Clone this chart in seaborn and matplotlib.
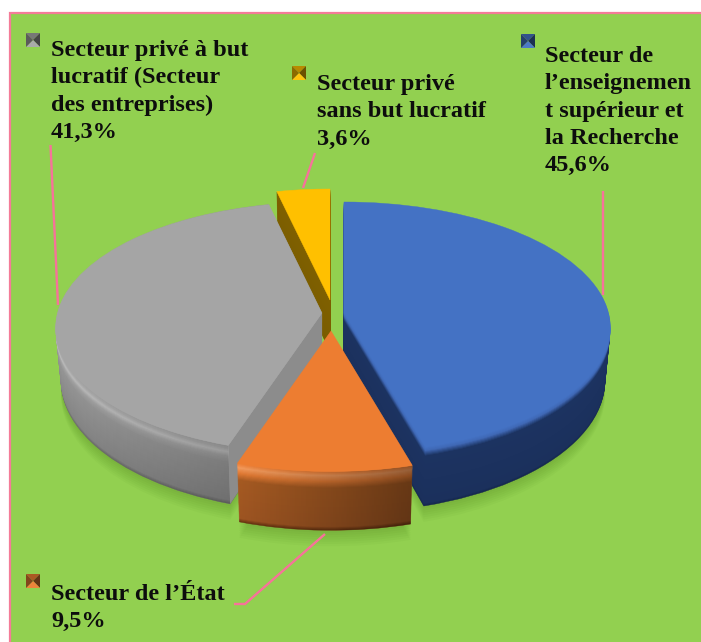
import numpy as np
import matplotlib
matplotlib.use("Agg")
import matplotlib.pyplot as plt
import seaborn as sns
from matplotlib.transforms import Transform
from matplotlib.patches import Rectangle, Polygon
from matplotlib.colors import to_rgb

categories = ["enseignement", "etat", "prive_lucratif", "prive_non_lucratif"]
values = [45.6, 9.5, 41.3, 3.6]
top_colors = ["#4472C4", "#ED7D31", "#A5A5A5", "#FFC000"]
labels = [
    ["Secteur de", "l’enseignemen", "t supérieur et", "la Recherche", "45,6%"],
    ["Secteur de l’État", "9,5%"],
    ["Secteur privé à but", "lucratif (Secteur", "des entreprises)", "41,3%"],
    ["Secteur privé", "sans but lucratif", "3,6%"],
]

# slice geometry in pixels
apex = [(344, 313), (331, 331), (322, 313), (330, 300)]
label_xy = [(545, 62), (51, 600), (51, 56), (317, 90)]
key_xy = [(521, 34), (26, 574), (26, 33), (292, 66)]
leaders = [
    [(603, 191), (603, 295)],
    [(325, 534), (245, 604), (234, 604)],
    [(50.5, 145), (58, 305)],
    [(315, 153), (303, 188)],
]
draw_order = [3, 2, 0, 1]
RX, RY, K, DEPTH, TAPER = 264.5, 124, 0.117, 52, 0.02

# side shading: (depth in px, colour) stops for each slice
side_stops = [
    [(0, "#4472C4"), (3, "#4069B6"), (8, "#1C3361"), (50, "#1B305C"), (52, "#16284E")],
    [(0, "#ED7D31"), (4, "#F39A5C"), (9, "#E07A34"), (15, "#A55A22"), (49, "#9E5522"), (52, "#6A3512")],
    [(0, "#A5A5A5"), (3, "#ACACAC"), (6, "#BDBDBD"), (10, "#A4A4A4"), (16, "#969696"), (49, "#888888"), (52, "#6E6E6E")],
    [(0, "#FFC000"), (1, "#7F6000"), (52, "#7A5C00")],
]
gray_cut_color = "#8C8C8C"

sns.set_theme(style="white")
plt.rcParams["font.family"] = ["Liberation Serif", "DejaVu Serif"]


class Perspective(Transform):
    input_dims = 2
    output_dims = 2
    is_separable = False
    has_inverse = False

    def __init__(self, center, dz=0):
        super().__init__()
        self.center = center
        self.dz = dz

    def transform_non_affine(self, v):
        v = np.asarray(v, dtype=float)
        s = 1.0 / (1.0 + K * v[:, 1])
        taper = 1.0 - TAPER * min(self.dz, DEPTH) / DEPTH
        return np.column_stack([
            self.center[0] + RX * taper * v[:, 0] * s,
            self.center[1] + (-RY * v[:, 1] + self.dz) * s,
        ])


def mix(c, f):
    c = np.array(to_rgb(c))
    return tuple(np.clip(c * f if f <= 1 else c + (1 - c) * (f - 1), 0, 1))


def shade(stops, dz):
    ds = [s[0] for s in stops]
    rgb = np.array([to_rgb(s[1]) for s in stops])
    return tuple(np.interp(dz, ds, rgb[:, k]) for k in range(3))


fig = plt.figure(figsize=(7.01, 6.42), dpi=100, facecolor="white")
ax = fig.add_axes([0, 0, 1, 1])

order_rank = {i: r for r, i in enumerate(draw_order)}
cum = np.cumsum([0] + values) / 100 * 2 * np.pi

# soft shadow
for dz in range(DEPTH - 2, DEPTH + 16, 2):
    wedges, _ = ax.pie(values, startangle=90, counterclock=False, colors=["#3A6A10"] * 4)
    for i, w in enumerate(wedges):
        w.set_transform(Perspective(apex[i], dz) + ax.transData)
        w.set_alpha(0.04)
        w.set_linewidth(0)
        w.set_zorder(1)
        if i == 3:
            w.set_visible(False)

# extruded sides, from the bottom up, and top face
for dz in range(DEPTH, -1, -1):
    cols = [shade(side_stops[i], dz) for i in range(4)]
    wedges, _ = ax.pie(values, startangle=90, counterclock=False, colors=cols)
    for i, w in enumerate(wedges):
        w.set_transform(Perspective(apex[i], dz) + ax.transData)
        w.set_edgecolor(cols[i])
        w.set_linewidth(0.3)
        w.set_zorder(10 + order_rank[i] * 10 + (3 if dz == 0 else 0))


# horizontal shading of the front sides
def side_gradient(i, start, end, a_left, a_right):
    th = np.linspace(cum[start], cum[end], 60)
    pts = np.column_stack([np.sin(th), np.cos(th)])
    upper = Perspective(apex[i], 0).transform(pts)
    lower = Perspective(apex[i], DEPTH).transform(pts)
    clip = Polygon(np.vstack([upper, lower[::-1]]), transform=ax.transData, fc="none", ec="none")
    ax.add_patch(clip)
    grad = np.zeros((2, 64, 4))
    grad[..., 3] = np.linspace(a_left, a_right, 64)
    xs = np.r_[upper[:, 0], lower[:, 0]]
    ys = np.r_[upper[:, 1], lower[:, 1]]
    im = ax.imshow(grad, extent=(xs.min(), xs.max(), ys.max(), ys.min()),
                   zorder=12 + order_rank[i] * 10, aspect="auto")
    im.set_clip_path(clip)


side_gradient(1, 1, 2, 0.0, 0.38)
side_gradient(2, 2, 3, 0.0, 0.22)

# flat cut face of the gray slice (no rim highlight there)
corner = np.array([[np.sin(cum[2]), np.cos(cum[2])], [0.0, 0.0]])
top_edge = Perspective(apex[2], 0).transform(corner)
low_edge = Perspective(apex[2], DEPTH).transform(corner)
ax.add_patch(Polygon(np.vstack([top_edge, low_edge[::-1]]), facecolor=gray_cut_color,
                     edgecolor="none", zorder=12 + order_rank[2] * 10))

# background panel and decorations
ax.add_patch(Rectangle((10, 13), 720, 660, facecolor="#92D050", edgecolor="#F47C98", linewidth=1.6, zorder=0))

for pts_l in leaders:
    xs, ys = zip(*pts_l)
    ax.plot(xs, ys, color="#F7729A", lw=1.7, solid_capstyle="butt", solid_joinstyle="miter", zorder=5)

for i, (kx, ky) in enumerate(key_xy):
    size = 14
    cx, cy = kx + size / 2, ky + size / 2
    corners = [(kx, ky), (kx + size, ky), (kx + size, ky + size), (kx, ky + size)]
    shades = [0.72, 0.42, 1.05, 0.55]
    for j in range(4):
        ax.add_patch(Polygon([corners[j], corners[(j + 1) % 4], (cx, cy)],
                             facecolor=mix(top_colors[i], shades[j]), edgecolor="none", zorder=60))

for i, lines in enumerate(labels):
    x, y = label_xy[i]
    for n, line in enumerate(lines):
        ax.text(x, y + n * 27.3, line, fontsize=17.5, fontweight="bold", color="#0D0D0D",
                va="baseline", ha="left", zorder=70)

ax.set_aspect("auto")
ax.set_xlim(0, 701)
ax.set_ylim(642, 0)
ax.axis("off")
fig.savefig("out.png", dpi=100, facecolor="white")
